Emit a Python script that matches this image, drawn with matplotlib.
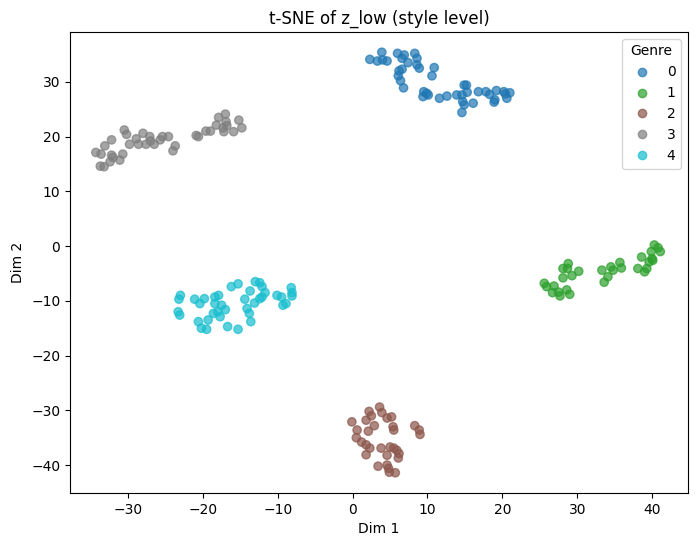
import numpy as np
import matplotlib
matplotlib.use("Agg")
import matplotlib.pyplot as plt

# genre 0 (blue)
x0 = [2.3, 3.3, 3.9, 4.0, 4.6, 6.0, 6.6, 6.9, 7.4, 8.3, 8.6, 8.6, 8.9, 6.6, 6.2, 6.1, 6.4, 6.8,
      10.9, 10.6, 9.5, 9.9, 9.4, 10.1, 11.6, 12.6, 13.9, 14.6, 14.9, 15.2, 15.3, 14.7, 14.9, 16.1,
      14.6, 16.8, 17.8, 18.3, 19.2, 19.0, 18.9, 20.2, 21.0, 20.6, 20.4]
y0 = [34.1, 33.8, 35.4, 34.0, 33.8, 35.2, 34.3, 34.9, 33.5, 35.2, 34.3, 33.1, 32.5, 32.3, 32.0, 31.1, 30.2, 28.9,
      32.6, 31.1, 28.2, 27.9, 27.3, 27.6, 27.0, 27.4, 27.6, 27.6, 29.4, 29.4, 28.1, 26.4, 25.8, 26.1,
      24.4, 28.2, 28.2, 27.7, 28.4, 26.7, 26.3, 28.2, 28.0, 27.0, 27.8]

# genre 1 (green)
x1 = [25.6, 25.9, 26.9, 26.7, 27.7, 27.5, 28.6, 29.0, 28.1, 28.8, 28.7, 28.1, 29.3, 30.2,
      33.3, 33.6, 34.1, 34.5, 34.8, 35.7, 35.9, 38.1, 38.6, 39.0, 39.3, 39.6, 40.0, 39.9, 40.3, 40.8, 41.1, 40.1]
y1 = [-6.8, -7.4, -7.3, -8.5, -9.1, -8.4, -8.0, -8.8, -4.1, -3.2, -4.1, -5.8, -5.4, -4.6,
      -4.4, -6.6, -5.6, -3.8, -4.4, -3.0, -4.0, -4.1, -2.0, -4.7, -4.1, -2.9, -2.3, -1.0, 0.2, -0.3, -1.0, -2.6]

# genre 2 (brown)
x2 = [-0.1, 0.6, 0.5, 1.2, 1.8, 1.8, 2.3, 1.8, 2.2, 2.5, 2.1, 2.9, 3.6, 3.9, 4.6, 5.2, 5.4, 5.5,
      3.8, 4.6, 5.0, 5.5, 5.9, 6.2, 6.1, 3.4, 4.6, 4.8, 4.9, 5.7, 8.3, 8.9, 9.0]
y2 = [-32.1, -33.6, -35.0, -35.8, -36.3, -38.1, -36.9, -31.8, -30.2, -31.0, -33.8, -32.8, -29.4, -30.4, -31.4, -31.2, -33.0, -33.6,
      -36.9, -38.2, -36.7, -36.9, -37.3, -37.9, -38.7, -40.2, -40.0, -40.6, -41.3, -41.4, -32.8, -33.6, -34.4]

# genre 3 (gray)
x3 = [-34.3, -33.6, -33.1, -32.2, -33.7, -33.2, -32.2, -32.0, -32.4, -31.1, -30.7, -30.5, -30.2, -29.8,
      -28.9, -28.6, -28.0, -27.6, -27.1, -27.0, -26.5, -25.7, -25.4, -24.6, -23.7, -24.0, -20.9, -20.6,
      -19.6, -19.0, -18.2, -17.9, -17.0, -16.9, -17.3, -16.8, -17.2, -15.9, -15.2, -14.8]
y3 = [17.1, 16.8, 18.3, 19.4, 14.6, 14.5, 16.6, 16.2, 15.4, 15.7, 16.8, 21.2, 20.4, 18.6,
      19.6, 18.6, 20.6, 18.6, 20.0, 19.2, 18.6, 19.4, 20.0, 20.0, 18.3, 17.4, 20.2, 20.0,
      21.0, 21.0, 22.1, 23.5, 24.1, 22.7, 21.6, 22.0, 20.9, 20.9, 23.0, 21.6]

# genre 4 (cyan)
x4 = [-23.0, -23.2, -23.3, -23.1, -21.1, -20.4, -19.8, -20.6, -20.2, -19.5, -19.3, -18.6, -18.4, -17.9,
      -18.4, -17.5, -17.0, -18.0, -17.7, -16.7, -15.3, -16.2, -15.3, -13.7, -14.4, -14.1, -13.8, -13.6,
      -13.0, -12.4, -12.1, -13.1, -12.4, -12.1, -11.7, -10.1, -9.5, -9.3, -8.9, -8.2, -8.1, -8.1]
y4 = [-9.0, -9.7, -12.0, -12.6, -9.7, -10.5, -9.6, -13.8, -15.0, -15.2, -13.5, -12.3, -9.3, -9.0,
      -10.5, -10.8, -11.6, -12.0, -12.9, -14.7, -15.2, -7.4, -6.9, -8.2, -9.7, -11.4, -12.3, -13.8,
      -6.5, -6.7, -7.4, -10.4, -9.6, -9.3, -8.5, -9.0, -9.3, -10.8, -10.5, -7.6, -8.5, -9.1]

genres = [0, 1, 2, 3, 4]
xs = [x0, x1, x2, x3, x4]
ys = [y0, y1, y2, y3, y4]

# flatten into one scatter, colour by genre label
all_x = np.concatenate([np.array(x) for x in xs])
all_y = np.concatenate([np.array(y) for y in ys])
labels = np.concatenate([np.full(len(x), g) for g, x in zip(genres, xs)])

fig = plt.figure(figsize=(6.98, 5.47), dpi=100)
ax = fig.add_axes([0.1003, 0.0987, 0.8854, 0.8428])
sc = ax.scatter(all_x, all_y, c=labels, cmap="tab10", alpha=0.7, s=36)

ax.set_xlim(-37.75, 44.8)
ax.set_ylim(-45.1, 39.1)
ax.set_title("t-SNE of z_low (style level)")
ax.set_xlabel("Dim 1")
ax.set_ylabel("Dim 2")
handles, _ = sc.legend_elements()
ax.legend(handles, [str(g) for g in genres], title="Genre", loc="upper right")

fig.savefig("out.png", dpi=100)
